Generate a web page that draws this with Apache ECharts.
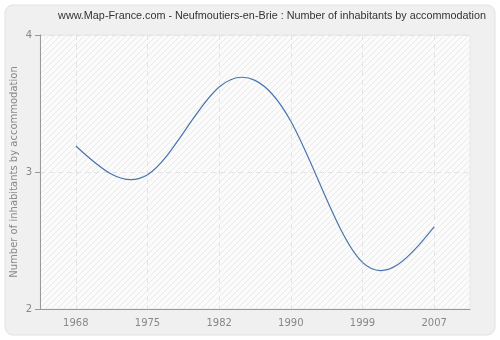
<!DOCTYPE html>
<html>
<head>
<meta charset="utf-8">
<script src="https://cdn.jsdelivr.net/npm/echarts@6/dist/echarts.min.js"></script>
<style>
  html, body { margin: 0; padding: 0; background: #ffffff; }
  #chart { width: 500px; height: 340px; }
</style>
</head>
<body>
<div id="chart"></div>
<script>
// Census years and average number of inhabitants per accommodation
const years = ['1968', '1975', '1982', '1990', '1999', '2007'];
const inhabitantsPerHome = [3.19, 2.98, 3.62, 3.37, 2.34, 2.60];
const yTicks = { min: 2, max: 4, interval: 1 };

// Natural cubic spline through the points (unit spacing): slope at every knot
function splineSlopes(y) {
  const n = y.length;
  const M = new Array(n).fill(0);
  if (n > 2) {
    // tridiagonal system for second derivatives, natural ends (M0 = Mn = 0)
    const a = [], b = [], c = [], r = [];
    for (let i = 1; i < n - 1; i++) {
      a.push(1); b.push(4); c.push(1);
      r.push(6 * (y[i + 1] - 2 * y[i] + y[i - 1]));
    }
    const m = r.length;
    for (let i = 1; i < m; i++) {
      const w = a[i] / b[i - 1];
      b[i] -= w * c[i - 1];
      r[i] -= w * r[i - 1];
    }
    const sol = new Array(m);
    sol[m - 1] = r[m - 1] / b[m - 1];
    for (let i = m - 2; i >= 0; i--) sol[i] = (r[i] - c[i] * sol[i + 1]) / b[i];
    for (let i = 0; i < m; i++) M[i + 1] = sol[i];
  }
  const d = new Array(n);
  for (let i = 0; i < n - 1; i++) d[i] = (y[i + 1] - y[i]) - (2 * M[i] + M[i + 1]) / 6;
  d[n - 1] = (y[n - 1] - y[n - 2]) + (M[n - 2] + 2 * M[n - 1]) / 6;
  return d;
}
const slopes = splineSlopes(inhabitantsPerHome);

// Light diagonal hatching used as the plot background
function hatchPattern() {
  const c = document.createElement('canvas');
  c.width = 6; c.height = 6;
  const g = c.getContext('2d');
  g.fillStyle = '#fbfbfb';
  g.fillRect(0, 0, 6, 6);
  g.strokeStyle = '#e9e9e9';
  g.lineWidth = 1;
  g.beginPath();
  g.moveTo(0, 6); g.lineTo(6, 0);
  g.moveTo(-1, 1); g.lineTo(1, -1);
  g.moveTo(5, 7); g.lineTo(7, 5);
  g.stroke();
  return c;
}

// Each segment of the curve is one cubic Bezier between neighbouring points
function renderSegment(params, api) {
  const i = params.dataIndex;
  if (i >= inhabitantsPerHome.length - 1) return null;
  const y0 = inhabitantsPerHome[i], y1 = inhabitantsPerHome[i + 1];
  const p0 = api.coord([i, y0]);
  const p3 = api.coord([i + 1, y1]);
  const dx = (p3[0] - p0[0]) / 3;
  const c1y = api.coord([i, y0 + slopes[i] / 3])[1];
  const c2y = api.coord([i + 1, y1 - slopes[i + 1] / 3])[1];
  return {
    type: 'bezierCurve',
    shape: {
      x1: p0[0], y1: p0[1],
      cpx1: p0[0] + dx, cpy1: c1y,
      cpx2: p3[0] - dx, cpy2: c2y,
      x2: p3[0], y2: p3[1]
    },
    style: { fill: null, stroke: '#4a76ad', lineWidth: 1.2 }
  };
}

const grid = { left: 40, right: 30, top: 35, bottom: 31, outerBoundsMode: 'none', containLabel: false };
const chart = echarts.init(document.getElementById('chart'), null, { renderer: 'canvas' });
const labelFont = 'DejaVu Sans, Verdana, sans-serif';

chart.setOption({
  animation: false,
  backgroundColor: '#ffffff',
  title: {
    text: 'www.Map-France.com - Neufmoutiers-en-Brie : Number of inhabitants by accommodation',
    left: 267, top: 6, textAlign: 'center',
    textStyle: { fontFamily: 'Liberation Sans, Arial, sans-serif', fontSize: 10.8, fontWeight: 'normal', color: '#333333' }
  },
  graphic: [
    {
      type: 'rect', z: -10, silent: true,
      shape: { x: 5, y: 5, width: 490, height: 330, r: 8 },
      style: { fill: '#f0f0f0', stroke: '#e2e2e2', lineWidth: 1 }
    },
    {
      type: 'rect', z: -9, silent: true,
      shape: { x: grid.left, y: grid.top, width: 500 - grid.left - grid.right, height: 340 - grid.top - grid.bottom },
      style: { fill: { image: hatchPattern(), repeat: 'repeat' }, stroke: '#e6e6e6', lineWidth: 1 }
    }
  ],
  grid: grid,
  xAxis: {
    type: 'category',
    data: years,
    boundaryGap: true,
    axisLine: { lineStyle: { color: '#999999', width: 1 } },
    axisTick: { alignWithLabel: true, length: 5, lineStyle: { color: '#999999' } },
    axisLabel: { color: '#888888', fontSize: 10, margin: 9, fontFamily: labelFont },
    splitLine: { show: true, alignWithLabel: true, lineStyle: { color: '#e3e3e3', type: [5, 4] } }
  },
  yAxis: {
    type: 'value',
    min: yTicks.min, max: yTicks.max, interval: yTicks.interval,
    name: 'Number of inhabitants by accommodation',
    nameLocation: 'middle', nameGap: 21, nameMoveOverlap: false,
    nameTextStyle: { color: '#888888', fontSize: 10, fontFamily: labelFont },
    axisLine: { show: true, lineStyle: { color: '#999999', width: 1 } },
    axisTick: { show: true, length: 5, lineStyle: { color: '#999999' } },
    axisLabel: { color: '#888888', fontSize: 10, margin: 8, fontFamily: labelFont },
    splitLine: { show: true, lineStyle: { color: '#e3e3e3', type: [5, 4] } }
  },
  series: [{
    type: 'custom',
    coordinateSystem: 'cartesian2d',
    encode: { x: 0, y: 1 },
    data: inhabitantsPerHome.map((v, i) => [i, v]),
    renderItem: renderSegment
  }]
});
</script>
</body>
</html>
